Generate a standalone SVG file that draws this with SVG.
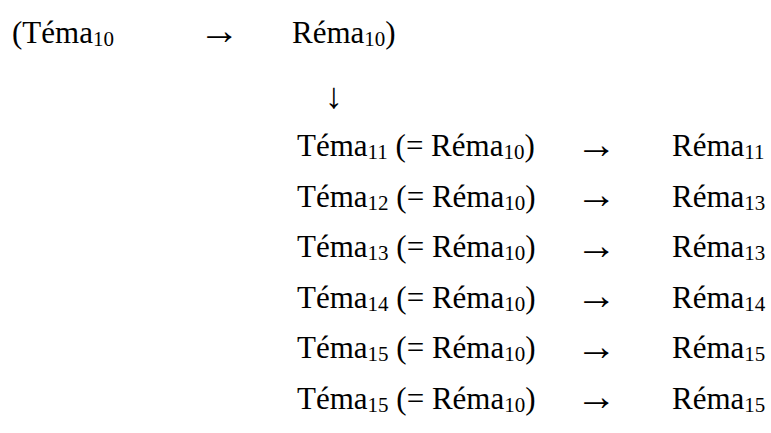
<svg xmlns="http://www.w3.org/2000/svg" width="771" height="433" viewBox="0 0 771 433">
<style>
text{font-family:"Liberation Serif","Times New Roman",serif;font-size:31px;fill:#000}
.s{font-size:21px}
.a{font-size:41px}
.d{font-size:36px}
</style>
<rect width="771" height="433" fill="#fff"/>
<g id="top">
<text x="12" y="42.5">(Téma<tspan class="s" dy="3">10</tspan></text>
<text class="a" x="199" y="44">→</text>
<text x="292" y="42.5">Réma<tspan class="s" dy="3">10</tspan><tspan dy="-3">)</tspan></text>
</g>
<g id="connectors">
<text class="d" x="325" y="108">↓</text>
</g>
<g id="row11"><text x="297" y="156">Téma<tspan class="s" dy="3">11</tspan><tspan dy="-3"> (= Réma</tspan><tspan class="s" dy="3">10</tspan><tspan dy="-3">)</tspan></text><text class="a" x="576" y="157.5">→</text><text x="672" y="156">Réma<tspan class="s" dy="3">11</tspan></text></g>
<g id="row12"><text x="297" y="206.5">Téma<tspan class="s" dy="3">12</tspan><tspan dy="-3"> (= Réma</tspan><tspan class="s" dy="3">10</tspan><tspan dy="-3">)</tspan></text><text class="a" x="576" y="208">→</text><text x="672" y="206.5">Réma<tspan class="s" dy="3">13</tspan></text></g>
<g id="row13"><text x="297" y="257">Téma<tspan class="s" dy="3">13</tspan><tspan dy="-3"> (= Réma</tspan><tspan class="s" dy="3">10</tspan><tspan dy="-3">)</tspan></text><text class="a" x="576" y="258.5">→</text><text x="672" y="257">Réma<tspan class="s" dy="3">13</tspan></text></g>
<g id="row14"><text x="297" y="307.5">Téma<tspan class="s" dy="3">14</tspan><tspan dy="-3"> (= Réma</tspan><tspan class="s" dy="3">10</tspan><tspan dy="-3">)</tspan></text><text class="a" x="576" y="309">→</text><text x="672" y="307.5">Réma<tspan class="s" dy="3">14</tspan></text></g>
<g id="row15a"><text x="297" y="358">Téma<tspan class="s" dy="3">15</tspan><tspan dy="-3"> (= Réma</tspan><tspan class="s" dy="3">10</tspan><tspan dy="-3">)</tspan></text><text class="a" x="576" y="359.5">→</text><text x="672" y="358">Réma<tspan class="s" dy="3">15</tspan></text></g>
<g id="row15b"><text x="297" y="408.5">Téma<tspan class="s" dy="3">15</tspan><tspan dy="-3"> (= Réma</tspan><tspan class="s" dy="3">10</tspan><tspan dy="-3">)</tspan></text><text class="a" x="576" y="410">→</text><text x="672" y="408.5">Réma<tspan class="s" dy="3">15</tspan></text></g>
</svg>
